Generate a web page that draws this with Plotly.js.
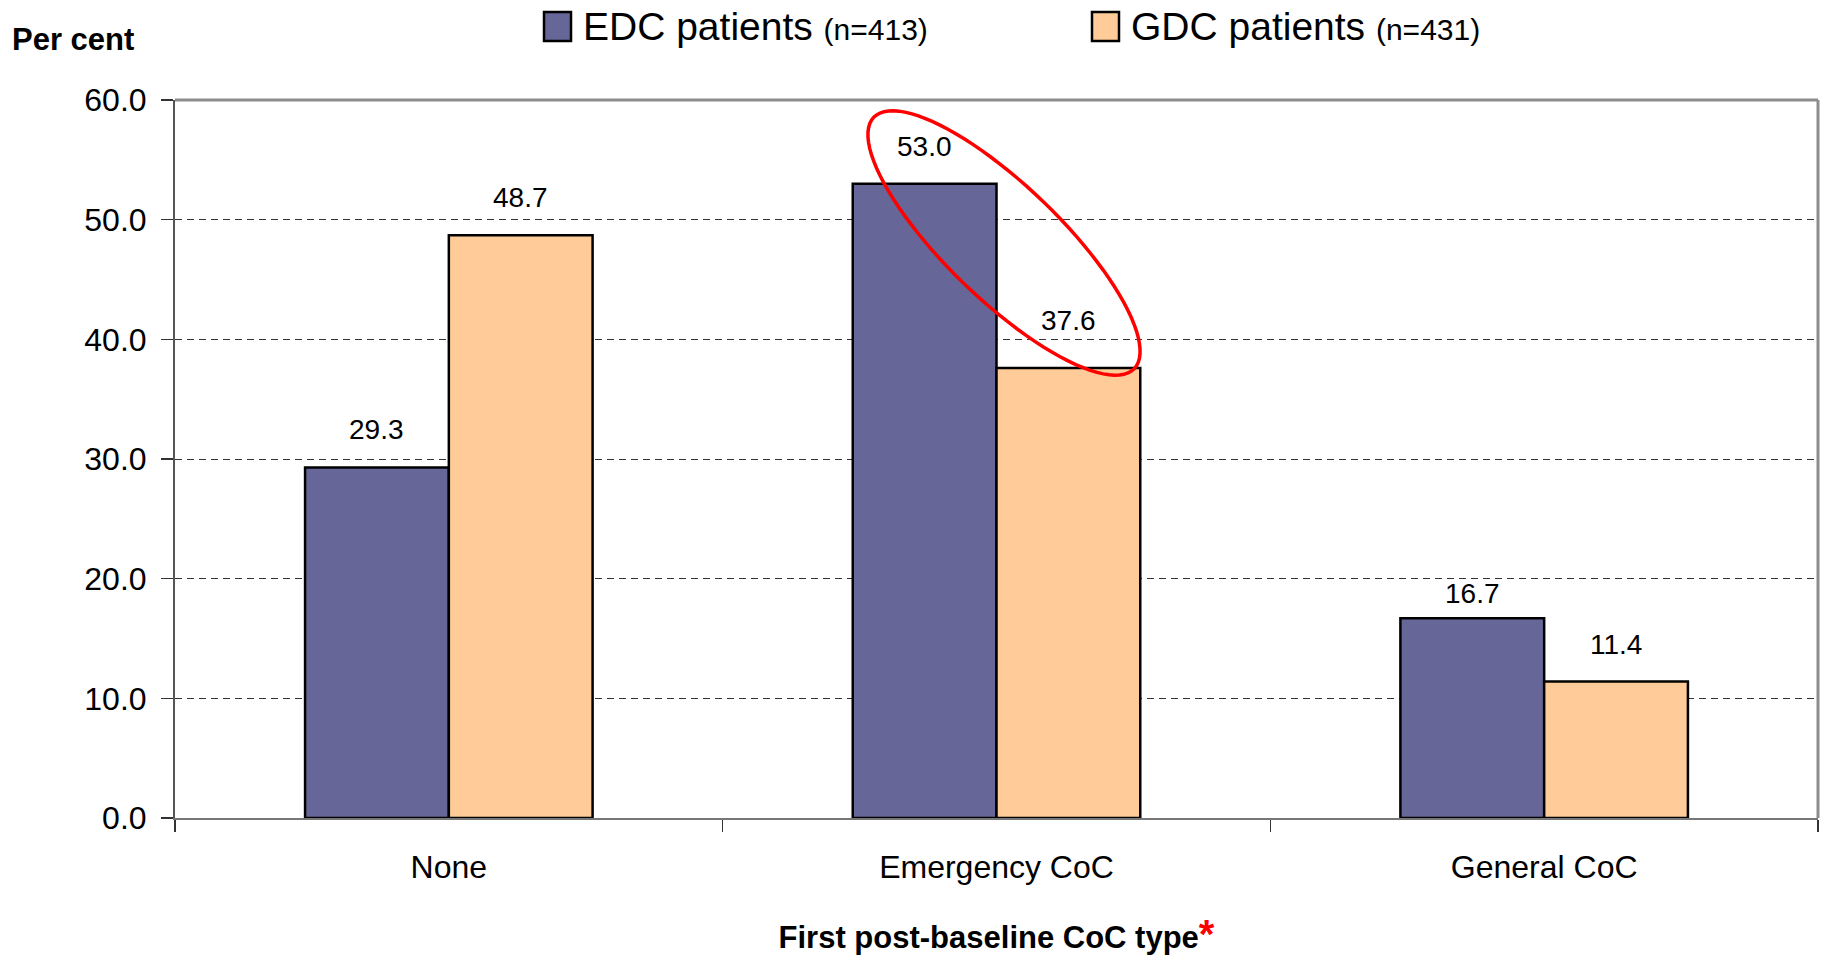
<!DOCTYPE html>
<html>
<head>
<meta charset="utf-8">
<script src="https://cdn.plot.ly/plotly-3.0.1.min.js"></script>
<style>
  html, body { margin: 0; padding: 0; background: #fff; }
  #chart { width: 1827px; height: 956px; }
</style>
</head>
<body>
<div id="chart"></div>
<script>
// Share of patients by first post-baseline CoC type
const categories = ["None", "Emergency CoC", "General CoC"];
const edcValues = [29.3, 53.0, 16.7];
const gdcValues = [48.7, 37.6, 11.4];
const seriesNames = ["EDC patients", "GDC patients"];
const seriesCounts = ["(n=413)", "(n=431)"];
const yTicks = [0, 10, 20, 30, 40, 50, 60];

const W = 1827, H = 956;
const M = { l: 175, r: 9, t: 100, b: 138 };
const PW = W - M.l - M.r, PH = H - M.t - M.b;
const FONT = "Liberation Sans, Arial, sans-serif";
const colors = ["#666699", "#FFCC99"];

// pixel -> paper helpers for decorations
const px = x => (x - M.l) / PW;
const py = y => (M.t + PH - y) / PH;

const traces = [edcValues, gdcValues].map((vals, i) => ({
  type: "bar",
  name: seriesNames[i],
  x: categories,
  y: vals,
  marker: { color: colors[i], line: { color: "#000", width: 2.5 } },
  hoverinfo: "skip",
  showlegend: false
}));

// value labels above bars (a few are lifted/lowered by hand for legibility)
const labelNudge = { "1,1": 10, "0,2": -13 };
const annotations = [];
[edcValues, gdcValues].forEach((vals, i) => {
  vals.forEach((v, j) => {
    annotations.push({
      x: categories[j], y: v, xref: "x", yref: "y",
      xshift: (i === 0 ? -1 : 1) * 72,
      yshift: 20 + (labelNudge[i + "," + j] || 0), yanchor: "bottom", showarrow: false,
      text: v.toFixed(1),
      font: { family: FONT, size: 28, color: "#000" }
    });
  });
});

// y-axis caption
annotations.push({
  xref: "paper", yref: "paper", x: px(10), y: py(40),
  xanchor: "left", yanchor: "middle", showarrow: false,
  text: "<b>Per cent</b>", font: { family: FONT, size: 31, color: "#000" }
});

// legend (manual)
const legendX = [544, 1092];
const shapes = [];
legendX.forEach((lx, i) => {
  shapes.push({
    type: "rect", xref: "paper", yref: "paper",
    x0: px(lx), x1: px(lx + 27), y0: py(41), y1: py(12),
    fillcolor: colors[i], line: { color: "#000", width: 2.5 }
  });
  annotations.push({
    xref: "paper", yref: "paper", x: px(lx + 37), y: py(27),
    xanchor: "left", yanchor: "middle", showarrow: false,
    text: seriesNames[i] + ' <span style="font-size:30px">' + seriesCounts[i] + "</span>",
    font: { family: FONT, size: 39, color: "#000" }
  });
});

// plot frame: top and right
shapes.push({ type: "line", xref: "paper", yref: "paper", x0: 0, x1: 1, y0: 1, y1: 1,
  line: { color: "#8c8c8c", width: 3 }, layer: "above" });
shapes.push({ type: "line", xref: "paper", yref: "paper", x0: 1, x1: 1, y0: 0, y1: 1,
  line: { color: "#8c8c8c", width: 3 }, layer: "above" });

// highlight ellipse round the Emergency CoC pair
(function () {
  const cx = 1004, cy = 243, a = 181, b = 57, phi = 44 * Math.PI / 180;
  let d = "";
  for (let k = 0; k <= 96; k++) {
    const t = 2 * Math.PI * k / 96;
    const ex = cx + a * Math.cos(t) * Math.cos(phi) - b * Math.sin(t) * Math.sin(phi);
    const ey = cy + a * Math.cos(t) * Math.sin(phi) + b * Math.sin(t) * Math.cos(phi);
    d += (k === 0 ? "M" : "L") + px(ex).toFixed(5) + "," + py(ey).toFixed(5);
  }
  d += "Z";
  shapes.push({ type: "path", xref: "paper", yref: "paper", path: d,
    line: { color: "#ff0000", width: 3.5 }, layer: "above" });
})();

const layout = {
  width: W, height: H,
  margin: M,
  paper_bgcolor: "#fff", plot_bgcolor: "#fff",
  barmode: "group",
  bargap: 0.475, bargroupgap: 0,
  font: { family: FONT, color: "#000" },
  xaxis: {
    type: "category",
    range: [-0.5, 2.5],
    showline: true, linecolor: "#777", linewidth: 2,
    ticks: "outside", tickson: "boundaries", ticklen: 12, tickcolor: "#333", tickwidth: 1.5,
    showgrid: false,
    tickfont: { family: FONT, size: 32, color: "#000" },
    ticklabelstandoff: 20,
    title: { text: '<b>First post-baseline CoC type</b><span style="font-size:40px;color:#ff0000"><b>*</b></span>',
      font: { family: FONT, size: 31, color: "#000" }, standoff: 44 }
  },
  yaxis: {
    range: [0, 60], tickvals: yTicks, ticktext: yTicks.map(v => v.toFixed(1)),
    showline: true, linecolor: "#555", linewidth: 2,
    ticks: "outside", ticklen: 12, tickcolor: "#333", tickwidth: 1.5,
    showgrid: true, gridcolor: "#333", gridwidth: 1, griddash: "7px,5px",
    zeroline: false,
    tickfont: { family: FONT, size: 32, color: "#000" },
    ticklabelstandoff: 8
  },
  shapes: shapes,
  annotations: annotations
};

Plotly.newPlot("chart", traces, layout, { staticPlot: true });
</script>
</body>
</html>
